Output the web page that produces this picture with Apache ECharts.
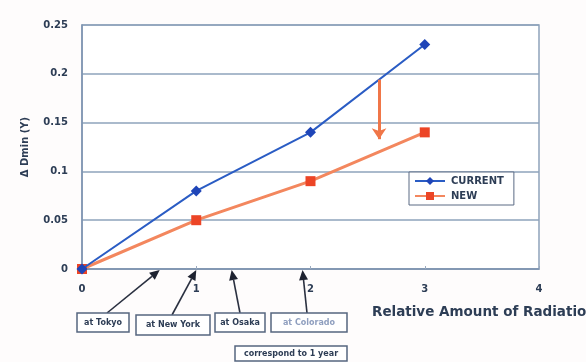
<!DOCTYPE html>
<html><head><meta charset="utf-8">
<script src="https://cdn.jsdelivr.net/npm/echarts@6/dist/echarts.min.js"></script>
<style>html,body{margin:0;padding:0;background:#fff}#c{width:586px;height:362px}</style>
</head><body><div id="c"></div>
<script>
// Relative amount of radiation (x) and the resulting Dmin change (y)
const radiation = [0, 1, 2, 3];
const currentDmin = [0, 0.08, 0.14, 0.23];
const newDmin = [0, 0.05, 0.09, 0.14];
const xTicks = [0, 1, 2, 3, 4];
const yTicks = [0, 0.05, 0.1, 0.15, 0.2, 0.25];

// Annual radiation at each site, on the same relative scale
const sites = ['at Tokyo', 'at New York', 'at Osaka', 'at Colorado'];
const siteRadiation = [0.68, 1.0, 1.31, 1.93];
const yearNote = 'correspond to 1 year';

// Improvement arrow from CURRENT down towards NEW
const reductionAt = 2.6;
const reductionFrom = 0.194;
const reductionTo = 0.133;

const FONT = '"DejaVu Sans", "Liberation Sans", sans-serif';
const GRID = '#8ea3bb';
const INK = '#2d3d55';

const chart = echarts.init(document.getElementById('c'), null, { renderer: 'canvas' });

chart.setOption({
  backgroundColor: '#fefcfc',
  animation: false,
  textStyle: { fontFamily: FONT },
  grid: { left: 82, right: 47, top: 25, bottom: 93, show: true, borderColor: GRID, borderWidth: 1.5, backgroundColor: '#fff' },
  legend: {
    data: ['CURRENT', 'NEW'],
    orient: 'vertical',
    left: 409, top: 172,
    padding: [4, 10, 4, 5],
    itemGap: 5,
    itemWidth: 30, itemHeight: 10,
    backgroundColor: '#fff',
    borderColor: '#5a6a84', borderWidth: 1,
    textStyle: { fontFamily: FONT, fontSize: 10, fontWeight: 'bold', color: INK, padding: [0, 0, 0, 1] }
  },
  xAxis: {
    type: 'value', min: xTicks[0], max: xTicks[xTicks.length - 1], interval: 1,
    axisLine: { lineStyle: { color: '#7d93b0', width: 1.5 } },
    axisTick: { show: true, inside: true, length: 3, lineStyle: { color: '#9aaabf' } },
    axisLabel: { margin: 15, fontSize: 10, fontWeight: 'bold', color: INK, fontFamily: FONT },
    splitLine: { show: false }
  },
  yAxis: {
    type: 'value', min: yTicks[0], max: yTicks[yTicks.length - 1], interval: 0.05,
    name: 'Δ Dmin (Y)', nameLocation: 'middle', nameGap: 52,
    nameTextStyle: { fontSize: 10, fontWeight: 'bold', color: INK, fontFamily: FONT },
    axisLine: { show: true, lineStyle: { color: '#7d93b0', width: 1.5 } },
    axisTick: { show: false },
    axisLabel: { margin: 14, fontSize: 10, fontWeight: 'bold', color: INK, fontFamily: FONT,
      formatter: v => String(+v.toFixed(2)) },
    splitLine: { lineStyle: { color: GRID, width: 1.5 } }
  },
  series: [
    {
      name: 'CURRENT', type: 'line',
      data: radiation.map((x, i) => [x, currentDmin[i]]),
      symbol: 'diamond', symbolSize: 11,
      lineStyle: { color: '#2a5cc4', width: 2 },
      itemStyle: { color: '#1f45b8' },
      z: 3
    },
    {
      name: 'NEW', type: 'line',
      data: radiation.map((x, i) => [x, newDmin[i]]),
      symbol: 'rect', symbolSize: 10,
      lineStyle: { color: '#f3875e', width: 3 },
      itemStyle: { color: '#ec4526' },
      z: 2,
      markLine: {
        silent: true,
        symbol: ['none', 'arrow'], symbolSize: [11, 11],
        label: { show: false },
        lineStyle: { color: '#f07648', width: 3, type: 'solid' },
        data: [[{ coord: [reductionAt, reductionFrom] }, { coord: [reductionAt, reductionTo] }]]
      }
    }
  ]
});

// Site boxes below the axis, each with an arrow to its radiation level
const boxes = [
  { x: 77, y: 313, w: 52, h: 19, tail: 107 },
  { x: 136, y: 315, w: 74, h: 20, tail: 172 },
  { x: 215, y: 313, w: 50, h: 19, tail: 240 },
  { x: 271, y: 313, w: 76, h: 19, tail: 307 }
];
const graphics = [];
function boxEl(x, y, w, h, text, color) {
  graphics.push({
    type: 'rect', shape: { x, y, width: w, height: h },
    style: { fill: '#fff', stroke: '#55657f', lineWidth: 1.5 }, z: 10
  });
  graphics.push({
    type: 'text', x: x + w / 2, y: y + h / 2,
    style: { text, fill: color, font: 'bold 8px ' + FONT, align: 'center', verticalAlign: 'middle' }, z: 11
  });
}
sites.forEach((name, i) => {
  const b = boxes[i];
  boxEl(b.x, b.y, b.w, b.h, name, i === 3 ? '#8f9fbf' : INK);
  const tip = chart.convertToPixel({ xAxisIndex: 0, yAxisIndex: 0 }, [siteRadiation[i], 0]);
  const tx = tip[0], ty = tip[1] + 1;
  const sx = b.tail, sy = b.y;
  const ang = Math.atan2(ty - sy, tx - sx);
  const L = 10, W = 4.5;
  const bx = tx - L * Math.cos(ang), by = ty - L * Math.sin(ang);
  graphics.push({
    type: 'line', shape: { x1: sx, y1: sy, x2: bx, y2: by },
    style: { stroke: '#2a3040', lineWidth: 1.6 }, z: 9
  });
  graphics.push({
    type: 'polygon',
    shape: { points: [[tx, ty],
      [bx + W * Math.sin(ang), by - W * Math.cos(ang)],
      [bx - W * Math.sin(ang), by + W * Math.cos(ang)]] },
    style: { fill: '#1e2230' }, z: 9
  });
});
boxEl(235, 346, 112, 15, yearNote, INK);
graphics.push({
  type: 'text', x: 372, y: 312,
  style: { text: 'Relative Amount of Radiation', fill: INK, font: 'bold 13.5px ' + FONT, verticalAlign: 'middle' }, z: 11
});
chart.setOption({ graphic: graphics });
</script>
</body></html>
